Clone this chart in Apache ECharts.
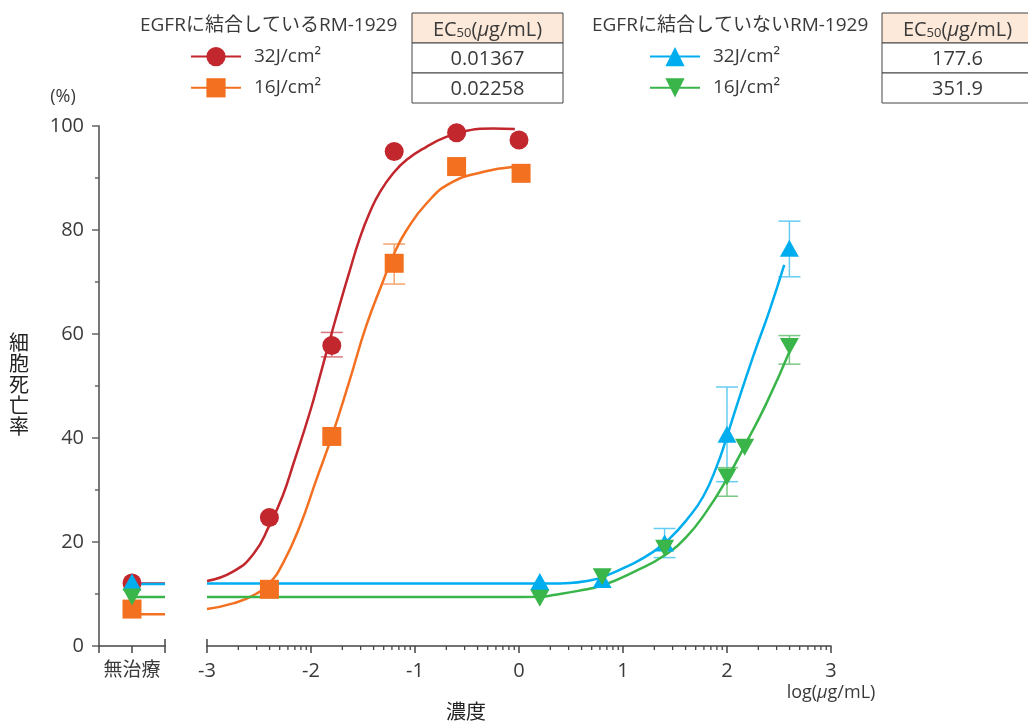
<!DOCTYPE html>
<html>
<head>
<meta charset="utf-8">
<script src="https://cdn.jsdelivr.net/npm/echarts@6/dist/echarts.min.js"></script>
<style>
html,body{margin:0;padding:0;background:#fff;}
#chart{width:1028px;height:726px;}
</style>
</head>
<body>
<div id="chart"></div>
<script>
// ---------- data ----------
const untreatedLabel = ['無治療'];
const xTickValues = [-3, -2, -1, 0, 1, 2, 3];
const yTickValues = [0, 20, 40, 60, 80, 100];

const legendTitleBinding = 'EGFRに結合しているRM-1929';
const legendTitleNonBinding = 'EGFRに結合していないRM-1929';
const seriesLabels = { b32: '32J/cm²', b16: '16J/cm²', n32: '32J/cm²', n16: '16J/cm²' };
const ec50Binding = ['0.01367', '0.02258'];
const ec50NonBinding = ['177.6', '351.9'];

// untreated (no treatment) points and fitted bottom level
const untreatedRed = [[1, 12.1]];
const untreatedOrange = [[1, 7.1]];
const untreatedBlue = [[1, 12.3]];
const untreatedGreen = [[1, 9.4]];
const untreatedFitRed = [[1, 12.0], [2, 12.0]];
const untreatedFitOrange = [[1, 6.1], [2, 6.1]];
const untreatedFitBlue = [[1, 11.9], [2, 11.9]];
const untreatedFitGreen = [[1, 9.4], [2, 9.4]];

// measured points: [log concentration, % cell death]
const pointsRed = [[-2.4, 24.7], [-1.8, 57.8], [-1.2, 95.1], [-0.6, 98.7], [0, 97.3]];
const pointsOrange = [[-2.4, 10.9], [-1.8, 40.3], [-1.2, 73.6], [-0.6, 92.2], [0.02, 90.9]];
const pointsBlue = [[0.2, 12.4], [0.8, 12.8], [1.4, 19.8], [2.0, 40.7], [2.6, 76.5]];
const pointsGreen = [[0.2, 9.2], [0.8, 13.3], [1.4, 18.8], [2.0, 32.5], [2.17, 38.2], [2.6, 57.6]];

// error bars: [x, low, high]
const errRed = [[-1.8, 55.6, 60.3]];
const errOrange = [[-1.2, 69.6, 77.3]];
const errBlue = [[1.4, 17.0, 22.6], [2.0, 31.6, 49.8], [2.6, 71.0, 81.7]];
const errGreen = [[2.0, 28.8, 34.3], [2.6, 54.2, 59.7]];

// fitted curves
const curveRed = [[-3.0, 12.5], [-2.75, 14.3], [-2.55, 17.8], [-2.4, 23.2], [-2.27, 29.0], [-2.17, 35.0],
  [-2.01, 45.0], [-1.91, 52.2], [-1.82, 58.8], [-1.72, 65.9], [-1.63, 72.0], [-1.53, 78.5], [-1.43, 83.6],
  [-1.34, 87.2], [-1.21, 90.9], [-1.08, 93.5], [-0.89, 96.0], [-0.70, 97.9], [-0.50, 99.1], [-0.25, 99.5], [-0.04, 99.4]];
const curveOrange = [[-3.0, 7.1], [-2.75, 8.2], [-2.55, 9.8], [-2.4, 12.1], [-2.27, 15.9], [-2.11, 22.9],
  [-1.95, 31.9], [-1.80, 40.3], [-1.63, 51.0], [-1.47, 61.5], [-1.31, 70.0], [-1.20, 75.5], [-1.08, 80.0],
  [-0.89, 85.1], [-0.66, 89.0], [-0.34, 91.2], [-0.06, 92.1]];
const curveBlue = [[-3.0, 12.0], [-2.0, 12.0], [-1.0, 12.0], [0.0, 12.0], [0.3, 12.0], [0.49, 12.1], [0.65, 12.5], [0.81, 13.3],
  [1.07, 15.6], [1.29, 18.1], [1.45, 20.7], [1.61, 24.2], [1.77, 28.7], [1.90, 34.5], [2.0, 40.3],
  [2.09, 46.0], [2.25, 55.6], [2.41, 64.6], [2.55, 73.3]];
const curveGreen = [[-3.0, 9.4], [-2.0, 9.4], [-1.0, 9.4], [-0.2, 9.4], [0.2, 9.45], [0.33, 9.8], [0.57, 10.6], [0.81, 11.7],
  [1.13, 14.5], [1.39, 17.3], [1.61, 21.0], [1.80, 25.8], [2.0, 32.2], [2.19, 39.3], [2.38, 46.7], [2.60, 56.6]];

// ---------- styles ----------
const C = { red: '#c1272d', orange: '#f37021', blue: '#00aeef', green: '#39b54a' };
const E = { red: '#d8767b', orange: '#f6a46f', blue: '#66cdf2', green: '#7cc885' };
const FONT = '"Open Sans", "Noto Sans CJK JP", sans-serif';
const TXT = '#3a3a3a';
const downTri = 'path://M0,0L20,0L10,18Z';
// log-scale minor tick positions on the axis line (axis decoration, y = 0)
const minorTickValues = [];
for (let d = -3; d < 3; d++) for (let k = 2; k <= 9; k++) minorTickValues.push([d + Math.log10(k), 0]);

function errSeries(name, data, color) {
  return {
    type: 'custom', name: name, xAxisIndex: 1, yAxisIndex: 1, z: 1, data: data,
    encode: { x: 0, y: [1, 2] },
    renderItem: function (params, api) {
      const x = api.value(0), lo = api.value(1), hi = api.value(2);
      const p1 = api.coord([x, lo]), p2 = api.coord([x, hi]);
      const w = 11, st = { stroke: color, lineWidth: 1.5 };
      return { type: 'group', children: [
        { type: 'line', shape: { x1: p1[0], y1: p1[1], x2: p2[0], y2: p2[1] }, style: st },
        { type: 'line', shape: { x1: p1[0] - w, y1: p1[1], x2: p1[0] + w, y2: p1[1] }, style: st },
        { type: 'line', shape: { x1: p2[0] - w, y1: p2[1], x2: p2[0] + w, y2: p2[1] }, style: st }
      ] };
    }
  };
}
// short tick marks on the x axis line (dy > 0 below, dy < 0 above)
function tickSeries(name, data, xi, yi, dy, width) {
  return {
    type: 'custom', name: name, xAxisIndex: xi, yAxisIndex: yi, z: 5, clip: false, silent: true, data: data,
    encode: { x: 0, y: 1 },
    renderItem: function (params, api) {
      const p = api.coord([api.value(0), api.value(1)]);
      return { type: 'line', shape: { x1: p[0], y1: p[1], x2: p[0], y2: p[1] + dy },
        style: { stroke: '#444', lineWidth: width } };
    }
  };
}
function curve(name, data, color, symbol, symbolSize) {
  return { type: 'line', name: name, xAxisIndex: 1, yAxisIndex: 1, data: data, smooth: 0.5,
    showSymbol: false, symbol: symbol, symbolSize: symbolSize, z: 2,
    lineStyle: { color: color, width: 2.5 }, itemStyle: { color: color } };
}
function pts(name, data, color, symbol, symbolSize, xi, yi) {
  return { type: 'scatter', name: name, xAxisIndex: xi, yAxisIndex: yi, data: data, symbol: symbol,
    symbolSize: symbolSize, z: 3, itemStyle: { color: color, opacity: 1 } };
}
function fitSeg(name, data, color, xi, yi) {
  return { type: 'line', name: name, xAxisIndex: xi, yAxisIndex: yi, data: data, showSymbol: false, symbol: 'none',
    z: 2, lineStyle: { color: color, width: 2.5 } };
}

function textEl(text, x, y, size, extra) {
  return Object.assign({ type: 'text', x: x, y: y, silent: true,
    style: Object.assign({ text: text, fill: TXT, font: size + 'px ' + FONT, align: 'center', verticalAlign: 'middle' }, extra || {}) });
}
function table(x0, values) {
  const w = 151, h = 30, y0 = 13, cx = x0 + w / 2;
  const els = [
    { type: 'rect', shape: { x: x0, y: y0, width: w, height: h }, style: { fill: '#fde9d9', stroke: '#444', lineWidth: 1 } },
    { type: 'rect', shape: { x: x0, y: y0 + h, width: w, height: h }, style: { fill: '#fff', stroke: '#444', lineWidth: 1 } },
    { type: 'rect', shape: { x: x0, y: y0 + 2 * h, width: w, height: h }, style: { fill: '#fff', stroke: '#444', lineWidth: 1 } },
    { type: 'text', x: cx, y: y0 + h / 2 + 1, style: {
        text: '{a|EC}{b|50}{a|(}{c|μ}{a|g/mL)}', align: 'center', verticalAlign: 'middle',
        rich: { a: { fontSize: 20, fontFamily: FONT, fill: TXT, verticalAlign: 'bottom', lineHeight: 22 },
                b: { fontSize: 13, fontFamily: FONT, fill: TXT, verticalAlign: 'bottom', lineHeight: 19 },
                c: { fontSize: 20, fontFamily: FONT, fill: TXT, fontStyle: 'italic', verticalAlign: 'bottom', lineHeight: 22 } } } }
  ];
  values.forEach(function (v, i) { els.push(textEl(v, cx, y0 + h * (i + 1) + h / 2 + 1, 20)); });
  return els;
}

const option = {
  animation: false,
  backgroundColor: '#fff',
  textStyle: { fontFamily: FONT },
  grid: [
    { left: 99, top: 126, width: 66, height: 520 },
    { left: 207, top: 126, width: 624, height: 520 }
  ],
  xAxis: [
    { gridIndex: 0, type: 'value', min: 0, max: 2, position: 'bottom', splitLine: { show: false },
      axisLine: { show: true, lineStyle: { color: '#444', width: 1.5 } },
      axisTick: { show: true, length: 7, customValues: [0, 1, 2], lineStyle: { color: '#444', width: 1.5 } },
      axisLabel: { customValues: [1], formatter: function () { return untreatedLabel[0]; }, fontSize: 19, color: TXT, margin: 15, fontFamily: FONT } },
    { gridIndex: 1, type: 'value', min: -3, max: 3, interval: 1, position: 'bottom', splitLine: { show: false },
      axisLine: { show: true, lineStyle: { color: '#444', width: 1.5 } },
      axisTick: { show: true, length: 7, customValues: xTickValues, lineStyle: { color: '#444', width: 1.5 } },
      axisLabel: { customValues: xTickValues, formatter: function (v) { return String(v); }, fontSize: 20, color: TXT, margin: 15, fontFamily: FONT } }
  ],
  yAxis: [
    { gridIndex: 0, type: 'value', min: 0, max: 100, interval: 20, splitLine: { show: false },
      axisLine: { show: true, lineStyle: { color: '#777', width: 2 } },
      axisTick: { show: true, length: 7, customValues: yTickValues, lineStyle: { color: '#666', width: 1.5 } },
      minorTick: { show: true, splitNumber: 2, length: 4, lineStyle: { color: '#666', width: 1.5 } },
      axisLabel: { customValues: yTickValues, fontSize: 20, color: TXT, margin: 15, fontFamily: FONT } },
    { gridIndex: 1, type: 'value', min: 0, max: 100, show: false }
  ],
  legend: [
    { left: 190, top: 47, orient: 'vertical', padding: 0, itemWidth: 50, itemHeight: 24, itemGap: 12,
      data: ['b32', 'b16'], formatter: function (n) { return seriesLabels[n]; }, selectedMode: false,
      textStyle: { fontSize: 19, color: TXT, fontFamily: FONT, padding: [0, 0, 0, 8] } },
    { left: 649, top: 47, orient: 'vertical', padding: 0, itemWidth: 50, itemHeight: 24, itemGap: 12,
      data: ['n32', 'n16'], formatter: function (n) { return seriesLabels[n]; }, selectedMode: false,
      textStyle: { fontSize: 19, color: TXT, fontFamily: FONT, padding: [0, 0, 0, 8] } }
  ],
  graphic: [
    textEl(legendTitleBinding, 140, 26, 19, { align: 'left' }),
    textEl(legendTitleNonBinding, 592, 26, 19, { align: 'left' }),
    textEl('(%)', 63, 97, 18),
    textEl('細\n胞\n死\n亡\n率', 19, 386, 20, { fill: '#222', lineHeight: 21 }),
    textEl('濃度', 466, 713, 20, { fill: '#222' }),
    { type: 'text', x: 831, y: 693, silent: true, style: {
        text: '{a|log(}{c|μ}{a|g/mL)}', align: 'center', verticalAlign: 'middle',
        rich: { a: { fontSize: 18, fontFamily: FONT, fill: TXT }, c: { fontSize: 18, fontFamily: FONT, fill: TXT, fontStyle: 'italic' } } } }
  ].concat(table(412, ec50Binding), table(882, ec50NonBinding)),
  series: [
    // axis tick decorations
    tickSeries('minorTicks', minorTickValues, 1, 1, 4, 1.3),
    tickSeries('breakTickRight', [[-3, 0]], 1, 1, -7, 1.5),
    tickSeries('breakTickLeft', [[2, 0]], 0, 0, -7, 1.5),
    // untreated section
    fitSeg('fitR', untreatedFitRed, C.red, 0, 0),
    fitSeg('fitO', untreatedFitOrange, C.orange, 0, 0),
    fitSeg('fitB', untreatedFitBlue, C.blue, 0, 0),
    fitSeg('fitG', untreatedFitGreen, C.green, 0, 0),
    pts('uR', untreatedRed, C.red, 'circle', 19, 0, 0),
    pts('uO', untreatedOrange, C.orange, 'rect', 19, 0, 0),
    pts('uB', untreatedBlue, C.blue, 'triangle', [19, 17], 0, 0),
    pts('uG', untreatedGreen, C.green, downTri, [19, 17], 0, 0),
    // error bars
    errSeries('eR', errRed, E.red),
    errSeries('eO', errOrange, E.orange),
    errSeries('eB', errBlue, E.blue),
    errSeries('eG', errGreen, E.green),
    // curves
    curve('b32', curveRed, C.red, 'circle', 19),
    curve('b16', curveOrange, C.orange, 'rect', 19),
    curve('n32', curveBlue, C.blue, 'triangle', [19, 17]),
    curve('n16', curveGreen, C.green, downTri, [19, 17]),
    // points
    pts('pR', pointsRed, C.red, 'circle', 19, 1, 1),
    pts('pO', pointsOrange, C.orange, 'rect', 19, 1, 1),
    pts('pB', pointsBlue, C.blue, 'triangle', [19, 17], 1, 1),
    pts('pG', pointsGreen, C.green, downTri, [19, 17], 1, 1)
  ]
};
const chart = echarts.init(document.getElementById('chart'), null, { renderer: 'canvas' });
chart.setOption(option);
</script>
</body>
</html>
